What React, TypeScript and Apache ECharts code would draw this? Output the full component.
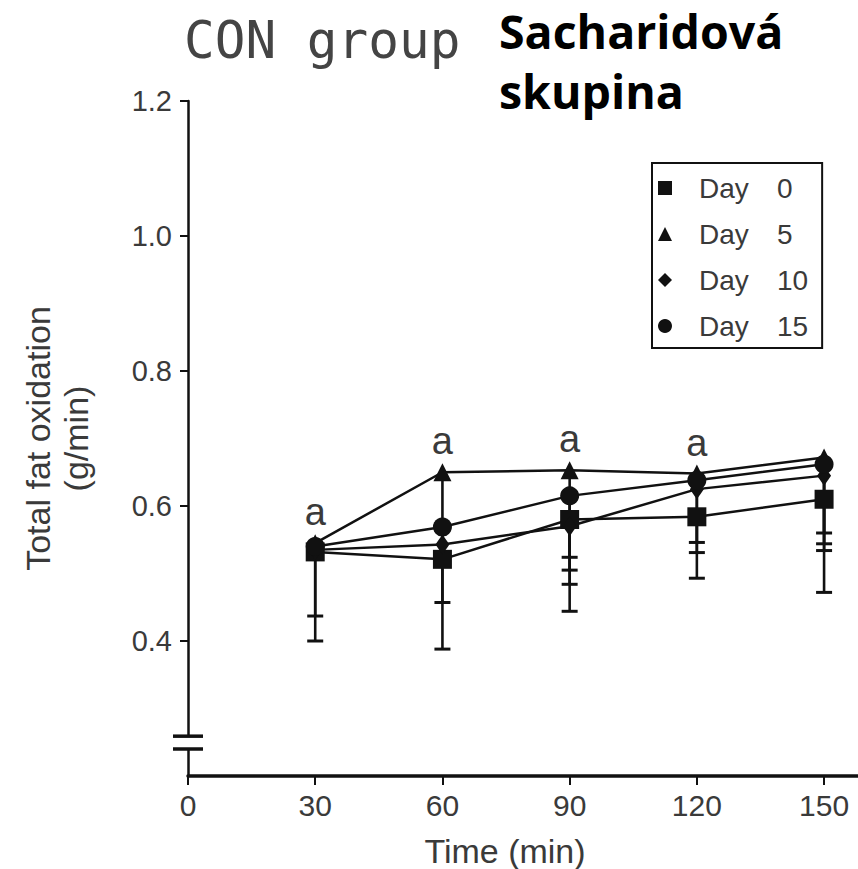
import React, { useEffect, useRef } from 'react';
import * as echarts from 'echarts';

// ---- data ----
const times = [30, 60, 90, 120, 150];
const yTickValues = [0.4, 0.6, 0.8, 1.0, 1.2];
const seriesNames = ['Day 0', 'Day 5', 'Day 10', 'Day 15'];
const seriesSymbols = ['rect', 'triangle', 'diamond', 'circle'];

const day0 = [0.532, 0.521, 0.58, 0.584, 0.61];
const day5 = [0.545, 0.65, 0.653, 0.648, 0.672];
const day10 = [0.535, 0.543, 0.57, 0.625, 0.645];
const day15 = [0.54, 0.569, 0.615, 0.638, 0.662];

// lower ends of the (SD) error bars; null = hidden behind the markers
const day0Low = [0.4, 0.457, 0.444, 0.493, 0.472];
const day5Low = [0.437, 0.388, 0.484, 0.531, 0.534];
const day10Low = [null, null, 0.505, 0.546, 0.544];
const day15Low = [null, null, 0.524, null, 0.56];

const sigLabels = ['a', 'a', 'a', 'a', ''];

const titleText = 'CON group';
const noteText = 'Sacharidová\nskupina';
const xName = 'Time (min)';
const yName = 'Total fat oxidation\n(g/min)';

const thin = "'Liberation Sans', sans-serif";
const ink = '#111';
const grey = '#3a3a3a';

export default function App() {
  const ref = useRef<HTMLDivElement>(null);
  useEffect(() => {
    document.body.style.margin = '0';
    if (!ref.current) return;
    const chart = echarts.init(ref.current, undefined, { renderer: 'svg' });
    const values = [day0, day5, day10, day15];
    const lows = [day0Low, day5Low, day10Low, day15Low];
    const symbolSizes = [19, 18, [14, 20], 19];

    const lineSeries = seriesNames.map((name, si) => ({
      name,
      type: 'line',
      symbol: seriesSymbols[si],
      symbolSize: symbolSizes[si],
      z: 5,
      lineStyle: { color: ink, width: 2.5 },
      itemStyle: { color: ink },
      data: values[si].map((v, i) =>
        si === 1
          ? {
              value: [times[i], v],
              label: {
                show: !!sigLabels[i],
                formatter: sigLabels[i],
                position: 'top',
                distance: 3,
                fontFamily: thin,
                fontSize: 38,
                color: grey,
              },
            }
          : { value: [times[i], v] }
      ),
    }));

    const errData: number[][] = [];
    lows.forEach((arr, si) =>
      arr.forEach((lo, i) => {
        if (lo != null) errData.push([times[i], values[si][i], lo]);
      })
    );

    const errSeries = {
      type: 'custom',
      name: 'err',
      z: 3,
      silent: true,
      renderItem: (params: any, api: any) => {
        const x = api.value(0);
        const top = api.coord([x, api.value(1)]);
        const bot = api.coord([x, api.value(2)]);
        return {
          type: 'group',
          children: [
            {
              type: 'line',
              shape: { x1: top[0], y1: top[1], x2: bot[0], y2: bot[1] },
              style: { stroke: ink, lineWidth: 2.6 },
            },
            {
              type: 'line',
              shape: { x1: bot[0] - 8, y1: bot[1], x2: bot[0] + 8, y2: bot[1] },
              style: { stroke: ink, lineWidth: 3 },
            },
          ],
        };
      },
      data: errData,
    };

    chart.setOption({
      animation: false,
      backgroundColor: '#fff',
      grid: { left: 188, top: 101, right: 0, bottom: 93, outerBoundsMode: 'none' },
      legend: {
        orient: 'vertical',
        left: 652,
        top: 163,
        padding: [11, 14, 8, 6],
        borderColor: ink,
        borderWidth: 2,
        itemWidth: 14,
        itemHeight: 14,
        itemGap: 18,
        data: seriesNames.map((n, i) => ({ name: n, icon: seriesSymbols[i] })),
        itemStyle: { color: ink },
        formatter: (name: string) => {
          const parts = name.split(' ');
          return `{d|${parts[0]}}{n|${parts[1]}}`;
        },
        textStyle: {
          rich: {
            d: { fontFamily: thin, fontSize: 28, color: grey, width: 78, padding: [0, 0, 0, 22] },
            n: { fontFamily: thin, fontSize: 28, color: grey },
          },
        },
      },
      xAxis: {
        type: 'value',
        min: 0,
        max: 158,
        interval: 30,
        name: xName,
        nameLocation: 'middle',
        nameGap: 58,
        nameTextStyle: { fontFamily: thin, fontSize: 34, color: grey, padding: [0, 36, 0, 0] },
        axisLine: { lineStyle: { color: ink, width: 3.5 } },
        axisTick: { show: true, length: 9, lineStyle: { color: ink, width: 2 } },
        axisLabel: { margin: 14, fontFamily: thin, fontSize: 30, color: grey },
        splitLine: { show: false },
      },
      yAxis: {
        type: 'value',
        min: 0.2,
        max: 1.2,
        interval: 0.2,
        name: yName,
        nameLocation: 'middle',
        nameRotate: 90,
        nameGap: 93,
        nameTextStyle: { fontFamily: thin, fontSize: 34, color: grey, lineHeight: 38 },
        axisLine: { onZero: false, lineStyle: { color: ink, width: 2.5 } },
        axisTick: { show: true, length: 8, lineStyle: { color: ink, width: 2 }, customValues: yTickValues },
        axisLabel: {
          margin: 16,
          fontFamily: thin,
          fontSize: 29,
          color: grey,
          customValues: yTickValues,
          formatter: (v: number) => v.toFixed(1),
        },
        splitLine: { show: false },
      },
      series: [errSeries, ...lineSeries],
    });

    const b1 = chart.convertToPixel({ gridIndex: 0 }, [0, 0.259]) as number[];
    const b2 = chart.convertToPixel({ gridIndex: 0 }, [0, 0.24]) as number[];
    chart.setOption({
      graphic: [
        {
          type: 'rect',
          shape: { x: b1[0] - 4, y: b1[1], width: 8, height: b2[1] - b1[1] },
          style: { fill: '#fff' },
          z: 100,
        },
        {
          type: 'line',
          shape: { x1: b1[0] - 15, y1: b1[1], x2: b1[0] + 15, y2: b1[1] },
          style: { stroke: ink, lineWidth: 3.5 },
          z: 101,
        },
        {
          type: 'line',
          shape: { x1: b2[0] - 15, y1: b2[1], x2: b2[0] + 15, y2: b2[1] },
          style: { stroke: ink, lineWidth: 3.5 },
          z: 101,
        },
        {
          type: 'text',
          left: 184,
          top: 15,
          style: { text: titleText, fontFamily: "'DejaVu Sans Mono', monospace", fontSize: 51, fill: '#444' },
        },
        {
          type: 'text',
          left: 499,
          top: 1,
          style: {
            text: noteText,
            fontFamily: "'Open Sans', 'Noto Sans', sans-serif",
            fontWeight: 'bold',
            fontSize: 46.5,
            lineHeight: 60,
            fill: '#000',
          },
        },
      ],
    });

    return () => chart.dispose();
  }, []);
  return <div ref={ref} style={{ width: 858, height: 869 }} />;
}
